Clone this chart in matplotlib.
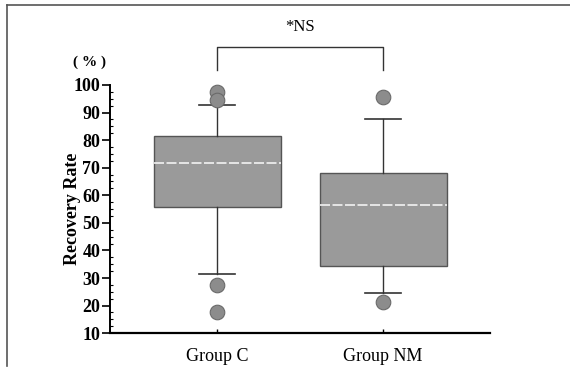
import numpy as np
import matplotlib.pyplot as plt
from matplotlib.lines import Line2D

groups = ['Group C', 'Group NM']
q1 = [55.7, 34.5]
med = [71.8, 56.3]
q3 = [81.5, 68.0]
whislo = [31.5, 24.6]
whishi = [92.7, 87.6]
fliers = [[97.5, 94.5, 27.5, 17.6], [95.7, 21.2]]

plt.rcParams['font.family'] = ['Liberation Serif', 'DejaVu Serif']

fig = plt.figure(figsize=(5.7, 3.71), dpi=100)
ax = fig.add_axes([0.193, 0.102, 0.667, 0.669])

stats = []
for i, g in enumerate(groups):
    stats.append(dict(label=g, q1=q1[i], med=med[i], q3=q3[i],
                      whislo=whislo[i], whishi=whishi[i], fliers=fliers[i]))

bp = ax.bxp(stats, positions=[1, 2], widths=0.765, patch_artist=True,
            boxprops=dict(facecolor='#9a9a9a', edgecolor='#555555', linewidth=1.0),
            medianprops=dict(color='#f2f2f2', linewidth=1.2, linestyle=(0, (6, 1.5))),
            whiskerprops=dict(color='#333333', linewidth=1.0),
            capprops=dict(color='#333333', linewidth=1.2),
            capwidths=0.22,
            flierprops=dict(marker='o', markersize=10.5, markerfacecolor='#8c8c8c',
                            markeredgecolor='#6a6a6a', markeredgewidth=0.8))
for f in bp['fliers']:
    f.set_clip_on(False)

ax.set_xlim(0.355, 2.645)
ax.set_ylim(10, 100)
ax.set_yticks(np.arange(10, 101, 10))
ax.set_yticks(np.arange(10, 100, 2.5), minor=True)
ax.tick_params(axis='y', which='major', length=6, width=1.2, labelsize=13, pad=1)
ax.tick_params(axis='y', which='minor', length=2, width=0.8, direction='in')
ax.tick_params(axis='x', length=3, width=1, direction='in', labelsize=13, pad=11)
for lab in ax.get_yticklabels():
    lab.set_fontweight('bold')
for s in ['top', 'right']:
    ax.spines[s].set_visible(False)
ax.spines['left'].set_linewidth(1.4)
ax.spines['bottom'].set_linewidth(1.6)

ax.set_ylabel('Recovery Rate', fontsize=13, fontweight='bold')
ax.yaxis.set_label_coords(-0.075, 0.5)
ax.text(-0.053, 1.09, '( % )', transform=ax.transAxes, fontsize=11,
        fontweight='bold', ha='center', va='center')

# significance bracket
ax.plot([1, 1, 2, 2], [105.5, 113.9, 113.9, 105.5], color='#333333',
        linewidth=1.0, clip_on=False)
ax.text(1.5, 121, '*NS', ha='center', va='center', fontsize=12, clip_on=False)

# scanned page frame
fig.add_artist(Line2D([7 / 570, 7 / 570], [1 - 5 / 371, 1 - 366 / 371],
                      transform=fig.transFigure, color='#555555', linewidth=1.2))
fig.add_artist(Line2D([7 / 570, 1.0], [1 - 5 / 371, 1 - 5 / 371],
                      transform=fig.transFigure, color='#555555', linewidth=1.2))

fig.savefig('out.png', dpi=100)
